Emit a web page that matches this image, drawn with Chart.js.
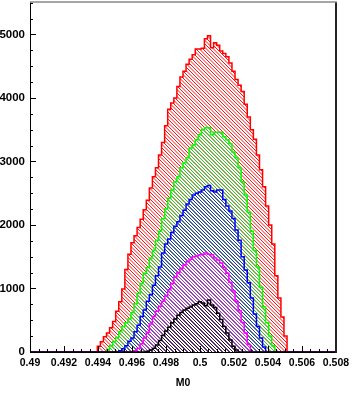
<!DOCTYPE html>
<html lang="en">
<head>
<meta charset="UTF-8">
<title>M0</title>
<script src="https://cdn.jsdelivr.net/npm/chart.js@4.4.1/dist/chart.umd.min.js"></script>
<style>
  html, body { margin: 0; padding: 0; background: #fff; }
</style>
</head>
<body>
<canvas id="m0" width="358" height="401"></canvas>
<script>
// binning of the M0 histograms
const xMin = 0.49;
const xMax = 0.508;
const nBins = 100;
const yTop = 5510;

// tick labels
const xTicks = [0.49, 0.492, 0.494, 0.496, 0.498, 0.5, 0.502, 0.504, 0.506, 0.508];
const yTicks = [0, 1000, 2000, 3000, 4000, 5000];

// bin contents, starting at the first non-empty bin
const redFirst = 22;
const red = [90, 160, 240, 300, 380, 480, 640, 790, 990, 1300, 1540, 1720, 1830, 1960, 2090, 2240,
  2390, 2580, 2760, 2900, 3100, 3300, 3560, 3820, 3920, 4000, 4180, 4330, 4420, 4530, 4610, 4680,
  4770, 4770, 4780, 4930, 4980, 4790, 4870, 4830, 4740, 4700, 4650, 4550, 4420, 4290, 4200, 4100,
  3900, 3700, 3500, 3350, 3100, 2870, 2600, 2300, 2000, 1700, 1200, 850, 550, 250];

const greenFirst = 25;
const green = [40, 100, 160, 230, 320, 400, 460, 520, 620, 760, 920, 1080, 1240, 1330, 1480, 1600,
  1760, 1900, 2100, 2250, 2420, 2550, 2680, 2760, 2900, 2980, 3060, 3210, 3260, 3340, 3420, 3500,
  3530, 3530, 3420, 3460, 3460, 3460, 3390, 3340, 3280, 3150, 3060, 2900, 2680, 2470, 2200, 1900,
  1600, 1340, 1020, 710, 460, 250, 100];

const blueFirst = 29;
const blue = [20, 50, 100, 170, 220, 320, 420, 560, 660, 800, 900, 1050, 1200, 1340, 1560, 1700,
  1780, 1880, 1980, 2050, 2150, 2230, 2330, 2400, 2470, 2500, 2520, 2550, 2600, 2620, 2540, 2520,
  2550, 2550, 2400, 2300, 2220, 2100, 1920, 1760, 1500, 1290, 1090, 850, 600, 400, 220, 80];

const magentaFirst = 34;
const magenta = [20, 60, 130, 220, 310, 440, 560, 640, 720, 800, 880, 980, 1080, 1180, 1250, 1320,
  1370, 1420, 1460, 1500, 1510, 1530, 1540, 1560, 1540, 1530, 1480, 1450, 1400, 1330, 1240, 1100,
  960, 800, 650, 470, 300, 120];

const blackFirst = 38;
const black = [10, 30, 60, 110, 180, 260, 330, 390, 460, 520, 580, 620, 660, 690, 710, 740, 760,
  790, 770, 730, 820, 740, 700, 610, 510, 400, 300, 190, 90, 30];

// turn a run of bin contents into step points over the full range
function histPoints(first, counts) {
  const w = (xMax - xMin) / nBins;
  const pts = [];
  for (let i = 0; i < nBins; i++) {
    const k = i - first;
    pts.push({ x: xMin + i * w, y: k >= 0 && k < counts.length ? counts[k] : 0 });
  }
  pts.push({ x: xMax, y: 0 });
  return pts;
}

// diagonal hatching like ROOT fill style 3005
function hatch(color, width) {
  const c = document.createElement('canvas');
  c.width = 7; c.height = 7;
  const g = c.getContext('2d');
  g.strokeStyle = color;
  g.lineWidth = width;
  for (let k = -14; k <= 14; k += 3.5) {
    g.beginPath();
    g.moveTo(k, 0);
    g.lineTo(k + 7, 7);
    g.stroke();
  }
  return g.createPattern(c, 'repeat');
}

function hist(first, counts, line, fillCol, order) {
  return {
    data: histPoints(first, counts),
    stepped: true,
    borderColor: line,
    borderWidth: 1.5,
    backgroundColor: hatch(fillCol, 1),
    fill: 'origin',
    pointRadius: 0,
    order: order
  };
}

// frame and inward tick marks
const frame = {
  id: 'frame',
  afterDatasetsDraw(chart) {
    const { ctx, chartArea: a, scales: { x, y } } = chart;
    ctx.save();
    ctx.strokeStyle = '#000';
    ctx.lineWidth = 1;
    ctx.beginPath();
    for (let v = 0; v <= yTop; v += 250) {
      const p = Math.round(y.getPixelForValue(v)) + 0.5;
      ctx.moveTo(a.left, p);
      ctx.lineTo(a.left + (v % 1000 === 0 ? 6 : 3), p);
    }
    for (let j = 0; j <= 36; j++) {
      const p = Math.round(x.getPixelForValue(xMin + j * 0.0005)) + 0.5;
      ctx.moveTo(p, a.bottom);
      ctx.lineTo(p, a.bottom - (j % 4 === 0 ? 6 : 3));
    }
    ctx.stroke();

    ctx.beginPath();
    ctx.moveTo(a.left + 0.5, a.top);
    ctx.lineTo(a.left + 0.5, a.bottom + 0.5);
    ctx.lineTo(a.right, a.bottom + 0.5);
    ctx.stroke();

    ctx.strokeStyle = '#222';
    ctx.lineWidth = 2;
    ctx.beginPath();
    ctx.moveTo(a.right, a.top);
    ctx.lineTo(a.right, a.bottom + 1);
    ctx.stroke();

    ctx.strokeStyle = '#888';
    ctx.lineWidth = 1.5;
    ctx.beginPath();
    ctx.moveTo(a.left, a.top);
    ctx.lineTo(a.right + 1, a.top);
    ctx.stroke();
    ctx.restore();
  }
};

const labelFont = { family: 'Liberation Sans', size: 10.5, weight: 'bold' };

new Chart(document.getElementById('m0'), {
  type: 'line',
  data: {
    datasets: [
      hist(redFirst, red, '#ff0000', '#ff1010', 5),
      hist(greenFirst, green, '#00ff00', '#22cc22', 4),
      hist(blueFirst, blue, '#0000ff', '#1133bb', 3),
      hist(magentaFirst, magenta, '#ff00ff', '#c030d0', 2),
      hist(blackFirst, black, '#000000', '#301030', 1)
    ]
  },
  options: {
    responsive: false,
    animation: false,
    layout: { padding: { left: 0, right: 22, top: 2, bottom: 0 } },
    plugins: { legend: { display: false }, tooltip: { enabled: false } },
    scales: {
      x: {
        type: 'linear',
        min: xMin,
        max: xMax,
        afterBuildTicks: s => { s.ticks = xTicks.map(v => ({ value: v })); },
        afterFit: s => { s.height = 49; s.paddingLeft = 0; s.paddingRight = 0; },
        grid: { display: false, drawTicks: false },
        border: { display: false },
        ticks: {
          color: '#000',
          font: labelFont,
          padding: 5,
          maxRotation: 0,
          autoSkip: false,
          callback: v => String(+v.toFixed(3))
        },
        title: { display: true, text: 'M0', color: '#000', font: labelFont, padding: { top: 0, bottom: 12 } }
      },
      y: {
        min: 0,
        max: yTop,
        afterBuildTicks: s => { s.ticks = yTicks.map(v => ({ value: v })); },
        afterFit: s => { s.width = 30; s.paddingTop = 0; s.paddingBottom = 0; },
        grid: { display: false, drawTicks: false },
        border: { display: false },
        ticks: {
          color: '#000',
          font: { family: 'Liberation Sans', size: 11.5, weight: 'bold' },
          padding: 5,
          callback: v => String(v)
        }
      }
    }
  },
  plugins: [frame]
});
</script>
</body>
</html>
